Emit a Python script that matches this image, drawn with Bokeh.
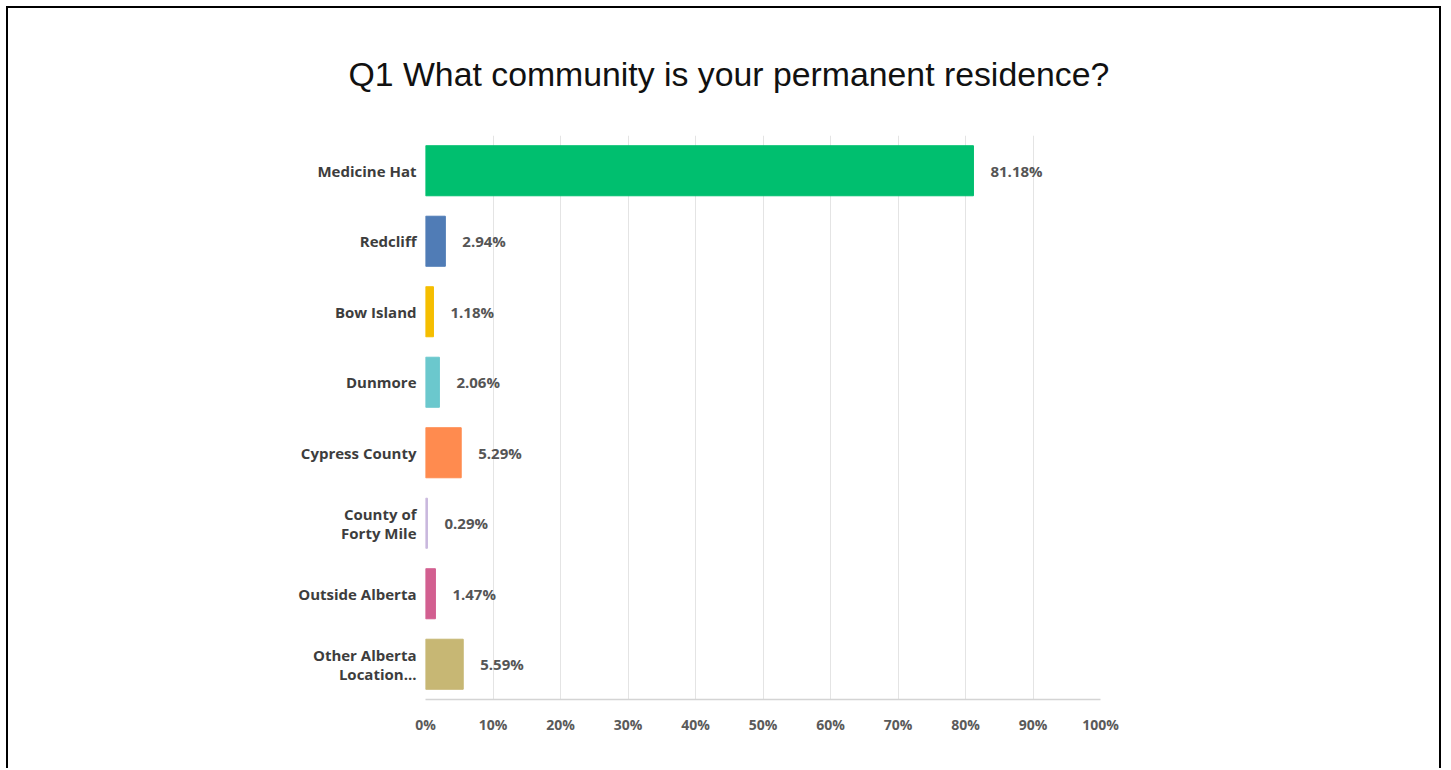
from bokeh.plotting import figure
from bokeh.models import FactorRange, Range1d, FixedTicker, Title, ColumnDataSource
from bokeh.core.properties import value
from bokeh.embed import file_html
from bokeh.resources import INLINE

# ---- data ----
title_text = "Q1 What community is your permanent residence?"
categories = ["Medicine Hat", "Redcliff", "Bow Island", "Dunmore", "Cypress County",
              "County of\nForty Mile", "Outside Alberta", "Other Alberta\nLocation..."]
percentages = [81.18, 2.94, 1.18, 2.06, 5.29, 0.29, 1.47, 5.59]
value_labels = ["81.18%", "2.94%", "1.18%", "2.06%", "5.29%", "0.29%", "1.47%", "5.59%"]
bar_colors = ["#00BF6F", "#507CB6", "#F5BE00", "#6BC8CD", "#FF8B4F", "#C9B8DD", "#D25F90", "#C7B774"]
tick_values = [0, 10, 20, 30, 40, 50, 60, 70, 80, 90, 100]
tick_labels = ["0%", "10%", "20%", "30%", "40%", "50%", "60%", "70%", "80%", "90%", "100%"]

LABEL_FONT = "Open Sans"

src = ColumnDataSource(dict(cat=categories, pct=percentages, lab=value_labels, color=bar_colors))

p = figure(width=1435, height=762,
           y_range=FactorRange(*list(reversed(categories))),
           x_range=Range1d(0, 100),
           output_backend="svg", toolbar_location=None,
           min_border_left=417, min_border_right=343,
           min_border_top=127, min_border_bottom=71)
p.styles = {"border": "2px solid black", "border-bottom": "none",
            "margin-left": "6px", "margin-top": "6px"}
p.outline_line_color = None
p.background_fill_color = "white"
p.border_fill_color = "white"

# title
p.title = Title(text=title_text, align="left", offset=-77, standoff=86,
                text_font="Liberation Sans", text_font_size="33.8px",
                text_font_style="normal", text_color="#111111")

p.hbar(y="cat", right="pct", left=0, height=0.71, color="color", source=src)
p.text(x="pct", y="cat", text="lab", source=src, x_offset=17,
       text_baseline="middle", text_align="left",
       text_font=value(LABEL_FONT), text_font_size="15px", text_font_style="bold",
       text_color="#555555")

# axes
p.xaxis.ticker = FixedTicker(ticks=tick_values)
p.xaxis.major_label_overrides = {v: l for v, l in zip(tick_values, tick_labels)}
p.xaxis.axis_line_color = "#d4d4d4"
p.xaxis.axis_line_width = 1.5
p.xaxis.major_tick_line_color = None
p.xaxis.minor_tick_line_color = None
p.xaxis.major_label_standoff = 9
p.xaxis.major_label_text_font = LABEL_FONT
p.xaxis.major_label_text_font_size = "14px"
p.xaxis.major_label_text_font_style = "bold"
p.xaxis.major_label_text_color = "#5a5a5a"

p.yaxis.axis_line_color = None
p.yaxis.major_tick_line_color = None
p.yaxis.minor_tick_line_color = None
p.yaxis.major_label_standoff = 3
p.yaxis.major_label_text_font = LABEL_FONT
p.yaxis.major_label_text_font_size = "15px"
p.yaxis.major_label_text_font_style = "bold"
p.yaxis.major_label_text_color = "#3d3d3d"
p.yaxis.major_label_text_line_height = 0.95

p.xgrid.grid_line_color = "#e4e4e4"
p.xgrid.grid_line_width = 1
p.ygrid.grid_line_color = None

open("out.html", "w").write(file_html(p, INLINE))
